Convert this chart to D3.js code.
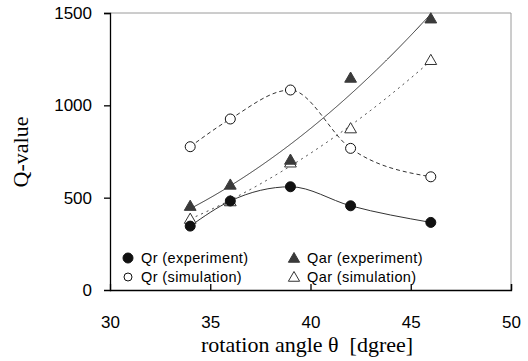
<!DOCTYPE html>
<html>
<head>
<meta charset="utf-8">
<script src="https://cdn.jsdelivr.net/npm/d3@7"></script>
<style>
  body { margin: 0; background: #fff; }
</style>
</head>
<body>
<div id="chart"></div>
<script>
// data
const angles = [34, 36, 39, 42, 46];
const qrExp = [346, 482, 559, 456, 366];
const qrSim = [776, 926, 1083, 767, 613];
const qarExp = [455, 570, 705, 1149, 1470];
const qarSim = [385, 480, 690, 875, 1245];
const xTicks = [30, 35, 40, 45, 50];
const yTicks = [0, 500, 1000, 1500];

const W = 528, H = 361;
const margin = { top: 13, right: 17, bottom: 71, left: 110 };

const x = d3.scaleLinear().domain([30, 50]).range([margin.left, W - margin.right]);
const y = d3.scaleLinear().domain([0, 1500]).range([H - margin.bottom, margin.top]);

const svg = d3.select("#chart").append("svg")
  .attr("width", W).attr("height", H);

// least squares polynomial, used for the Qar trend lines
function polyFit(xs, ys, deg) {
  const n = deg + 1;
  const x0 = d3.mean(xs);
  const A = [];
  for (let i = 0; i < n; i++) {
    A.push([]);
    for (let j = 0; j <= n; j++) A[i].push(0);
  }
  xs.forEach((xv, k) => {
    const t = xv - x0;
    for (let i = 0; i < n; i++) {
      for (let j = 0; j < n; j++) A[i][j] += Math.pow(t, i + j);
      A[i][n] += ys[k] * Math.pow(t, i);
    }
  });
  for (let i = 0; i < n; i++) {
    let p = i;
    for (let r = i + 1; r < n; r++) if (Math.abs(A[r][i]) > Math.abs(A[p][i])) p = r;
    [A[i], A[p]] = [A[p], A[i]];
    for (let r = 0; r < n; r++) {
      if (r === i) continue;
      const f = A[r][i] / A[i][i];
      for (let c = i; c <= n; c++) A[r][c] -= f * A[i][c];
    }
  }
  const coef = A.map((row, i) => row[n] / row[i]);
  return xv => coef.reduce((s, c, i) => s + c * Math.pow(xv - x0, i), 0);
}

// frame: top and right in gray
svg.append("path")
  .attr("d", `M${x(30)},${y(1500)}H${x(50)}V${y(0)}`)
  .attr("fill", "none").attr("stroke", "#9a9a9a").attr("stroke-width", 1);

// left axis
const yAxis = svg.append("g")
  .attr("transform", `translate(${x(30)},0)`)
  .call(d3.axisLeft(y).tickValues(yTicks).tickSize(6).tickPadding(12).tickFormat(d3.format("d")));
yAxis.select(".domain").attr("stroke", "#000").attr("stroke-width", 1.3);
yAxis.selectAll(".tick line").attr("stroke", "#000").attr("stroke-width", 1.3)
  .attr("display", d => d === 0 ? "none" : null);
yAxis.selectAll("text").attr("font-family", "Liberation Sans, Arial, sans-serif")
  .attr("font-size", 17).attr("fill", "#000");

// bottom axis, ticks point inward
const xAxis = svg.append("g")
  .attr("transform", `translate(0,${y(0)})`)
  .call(d3.axisBottom(x).tickValues(xTicks).tickSize(-6).tickPadding(26));
xAxis.select(".domain").attr("stroke", "#000").attr("stroke-width", 1.3);
xAxis.selectAll(".tick line").attr("stroke", "#000").attr("stroke-width", 1.3)
  .attr("display", d => (d === 30) ? "none" : null);
xAxis.selectAll("text").attr("font-family", "Liberation Sans, Arial, sans-serif")
  .attr("font-size", 17).attr("fill", "#000");

// axis titles
svg.append("text")
  .attr("x", 201).attr("y", 352)
  .style("white-space", "pre")
  .attr("font-family", "Liberation Serif, Times New Roman, serif")
  .attr("font-size", 22)
  .text("rotation angle θ  [dgree]");

svg.append("text")
  .attr("transform", `translate(28,152) rotate(-90)`)
  .attr("text-anchor", "middle")
  .attr("font-family", "Liberation Serif, Times New Roman, serif")
  .attr("font-size", 22)
  .text("Q-value");

// Qr: smoothed lines through the points
const smooth = d3.line()
  .x((d, i) => x(angles[i]))
  .y(d => y(d))
  .curve(d3.curveMonotoneX);
[[qrExp, null], [qrSim, "4,3"]].forEach(([vals, dash]) => {
  svg.append("path")
    .datum(vals)
    .attr("fill", "none")
    .attr("stroke", "#333")
    .attr("stroke-width", 1)
    .attr("stroke-dasharray", dash)
    .attr("d", smooth);
});

// Qar: quadratic trend lines
const xs = d3.range(34, 46.001, 0.05);
const line = d3.line().x(d => x(d[0])).y(d => y(d[1]));
[[qarExp, null], [qarSim, "2,4"]].forEach(([vals, dash]) => {
  const f = polyFit(angles, vals, 2);
  svg.append("path")
    .datum(xs.map(v => [v, f(v)]))
    .attr("fill", "none")
    .attr("stroke", "#333")
    .attr("stroke-width", 1)
    .attr("stroke-dasharray", dash)
    .attr("d", line);
});

// markers
const tri = d3.symbol().type(d3.symbolTriangle).size(60);
function drawCircles(vals, fill) {
  svg.append("g").selectAll("circle")
    .data(vals).join("circle")
    .attr("cx", (d, i) => x(angles[i]))
    .attr("cy", d => y(d))
    .attr("r", 5)
    .attr("fill", fill)
    .attr("stroke", "#111").attr("stroke-width", 1);
}
function drawTris(vals, fill, stroke) {
  svg.append("g").selectAll("path")
    .data(vals).join("path")
    .attr("transform", (d, i) => `translate(${x(angles[i])},${y(d) + 1})`)
    .attr("d", tri)
    .attr("fill", fill)
    .attr("stroke", stroke).attr("stroke-width", 1);
}
drawTris(qarSim, "#fff", "#333");
drawCircles(qrSim, "#fff");
drawTris(qarExp, "#3a3a3a", "#3a3a3a");
drawCircles(qrExp, "#111");

// legend
const legend = [
  { label: "Qr (experiment)", kind: "circle", fill: "#111", col: 0, row: 0 },
  { label: "Qr (simulation)", kind: "circle", fill: "#fff", col: 0, row: 1 },
  { label: "Qar (experiment)", kind: "tri", fill: "#3a3a3a", col: 1, row: 0 },
  { label: "Qar (simulation)", kind: "tri", fill: "#fff", col: 1, row: 1 }
];
const lg = svg.append("g");
legend.forEach(d => {
  const lx = d.col ? 294 : 128;
  const ly = d.row ? 277 : 258;
  if (d.kind === "circle") {
    lg.append("circle").attr("cx", lx).attr("cy", ly).attr("r", d.fill === "#fff" ? 4 : 5)
      .attr("fill", d.fill).attr("stroke", "#111");
  } else {
    lg.append("path").attr("transform", `translate(${lx},${ly + 1})`)
      .attr("d", d3.symbol().type(d3.symbolTriangle).size(55))
      .attr("fill", d.fill).attr("stroke", d.fill === "#fff" ? "#333" : d.fill);
  }
  lg.append("text")
    .attr("x", lx + 13).attr("y", ly + 5)
    .style("white-space", "pre")
    .attr("font-family", "Liberation Sans, Arial, sans-serif")
    .attr("font-size", 14.5)
    .attr("letter-spacing", 0.4)
    .text(d.label);
});
</script>
</body>
</html>
